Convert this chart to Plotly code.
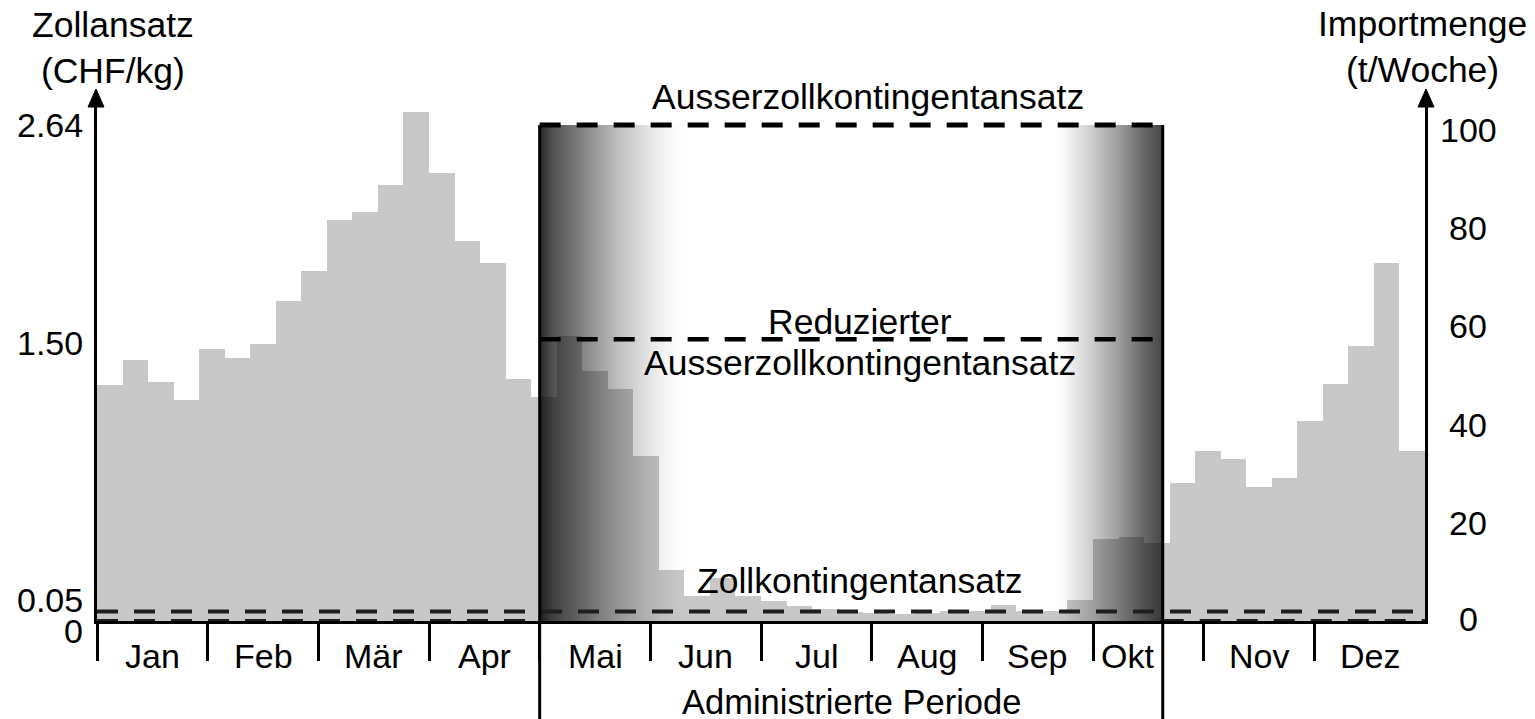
import base64
import struct
import zlib

import plotly.graph_objects as go

# ---------------- data ----------------
months = ["Jan", "Feb", "Mär", "Apr", "Mai", "Jun", "Jul", "Aug", "Sep", "Okt", "Nov", "Dez"]

# weekly import volume (t/Woche), 52 weeks
import_volume = [48.1, 53.2, 48.7, 45.0, 55.4, 53.6, 56.4, 65.2, 71.3, 81.7,
                 83.3, 88.8, 103.7, 91.2, 77.4, 72.9, 49.3, 45.6, 58.0, 50.9,
                 47.3, 33.6, 10.4, 5.1, 8.8, 5.1, 4.1, 3.1, 2.4, 1.8,
                 1.6, 1.4, 1.6, 2.0, 2.0, 3.3, 2.0, 2.0, 4.3, 16.7,
                 17.1, 15.9, 28.1, 34.6, 33.0, 27.3, 29.1, 40.7, 48.3, 56.0,
                 72.9, 34.6]

# tariff rates (CHF/kg)
rate_out_of_quota = 2.64
rate_reduced = 1.50
rate_in_quota = 0.05
rate_outside_period = 0.0

left_ticks = [2.64, 1.50, 0.05, 0]
left_tick_text = ["2.64", "1.50", "0.05", "0"]
right_ticks = [100, 80, 60, 40, 20, 0]

# administered period in month units (1. Mai - ca. 20. Okt)
admin_start = 4.0
admin_end = 9.63

# ---------------- geometry / style ----------------
W, H = 1535, 719
ML, MR, MT, MB = 97, 110, 92, 98
PLOT_H = H - MT - MB
PX_PER_T = 4.91                 # px per t/Woche
Y_RANGE = PLOT_H / PX_PER_T
Y2_RANGE = 2.64 * PLOT_H / 496  # 2.64 drawn 496 px above baseline
FONT = "Liberation Sans, Arial, sans-serif"
FS = 34
FS_BIG = 35.5
BAR_COLOR = "#c8c8c8"

n_weeks = len(import_volume)
bar_w = 12 / n_weeks
bar_x = [(i + 0.5) * bar_w for i in range(n_weeks)]

fig = go.Figure()
fig.add_trace(go.Bar(x=bar_x, y=import_volume, width=bar_w,
                     marker=dict(color=BAR_COLOR, line=dict(width=0)),
                     yaxis="y", hoverinfo="skip"))
fig.add_trace(go.Scatter(x=[None], y=[None], yaxis="y2", mode="markers",
                         showlegend=False, hoverinfo="skip"))


# ---------------- gradient overlay for administered period ----------------
def interp(stops, v):
    if v <= stops[0][0]:
        return stops[0][1]
    for (a, la), (b, lb) in zip(stops, stops[1:]):
        if v <= b:
            return la + (lb - la) * (v - a) / (b - a)
    return stops[-1][1]


def make_png(width, height, rows):
    raw = b"".join(b"\x00" + bytes(r) for r in rows)

    def chunk(tag, data):
        c = struct.pack(">I", len(data)) + tag + data
        return c + struct.pack(">I", zlib.crc32(tag + data) & 0xffffffff)
    ihdr = struct.pack(">IIBBBBB", width, height, 8, 6, 0, 0, 0)
    return (b"\x89PNG\r\n\x1a\n" + chunk(b"IHDR", ihdr)
            + chunk(b"IDAT", zlib.compress(raw)) + chunk(b"IEND", b""))


GW = 626
left_stops = [(0, 40), (13, 80), (46, 136), (80, 192), (113, 232), (136, 252), (150, 255)]
right_stops = [(0, 70), (20, 105), (46, 160), (73, 207), (93, 238), (100, 250), (110, 255)]
row = []
for c in range(GW):
    d = c + 0.5
    L = min(interp(left_stops, d), interp(right_stops, GW - d))
    a = int(round(max(0, min(255, 255 - L))))
    row += [0, 0, 0, a]
png = make_png(GW, 2, [row, row])
src = "data:image/png;base64," + base64.b64encode(png).decode()

fig.add_layout_image(dict(source=src, xref="x", yref="y2",
                          x=admin_start, y=rate_out_of_quota,
                          sizex=admin_end - admin_start, sizey=rate_out_of_quota,
                          xanchor="left", yanchor="top", sizing="stretch",
                          layer="above", opacity=1))

# ---------------- shapes ----------------
shapes = []
dash = "21px,16px"


def hline(x0, x1, yv, color="black", width=4):
    shapes.append(dict(type="line", xref="x", yref="y2", x0=x0, x1=x1, y0=yv, y1=yv,
                       line=dict(color=color, width=width, dash=dash), layer="above"))


hline(admin_start, admin_end, rate_out_of_quota, width=5)
hline(admin_start, admin_end, rate_reduced, width=4.5)
hline(0, 12, rate_in_quota, "#1e1e1e")
hline(0, admin_start, rate_outside_period, "#1e1e1e")
hline(admin_end, 12, rate_outside_period, "#1e1e1e")

top_paper = rate_out_of_quota / Y2_RANGE
bottom_paper = -MB / PLOT_H
for xv in (admin_start, admin_end):
    shapes.append(dict(type="line", xref="x", yref="paper", x0=xv, x1=xv,
                       y0=bottom_paper, y1=top_paper,
                       line=dict(color="black", width=3), layer="above"))

# arrow heads on both y axes (paper-referenced so they are not clipped)
for (xa, dx) in ((0, -1), (1, 1)):
    shapes.append(dict(type="path", xref="paper", yref="paper",
                       xsizemode="pixel", ysizemode="pixel", xanchor=xa, yanchor=1,
                       path=f"M{dx - 8},-15 L{dx + 8},-15 L{dx},3 Z",
                       fillcolor="black", line=dict(color="black", width=1),
                       layer="above"))

# ---------------- annotations ----------------
ann = []


def text(x, y, t, xref="paper", yref="paper", xanchor="center", yanchor="middle",
         xshift=0, yshift=0, size=FS):
    ann.append(dict(x=x, y=y, xref=xref, yref=yref, text=t, showarrow=False,
                    xanchor=xanchor, yanchor=yanchor, xshift=xshift, yshift=yshift,
                    font=dict(family=FONT, size=size, color="black")))


# month labels
for i, m in enumerate(months):
    if m == "Okt":
        xc = (i + admin_end) / 2
    else:
        xc = i + 0.5
    text(xc, 0, m, xref="x", yshift=-35)

# left tick labels
left_shift = {"2.64": 0, "1.50": -4, "0.05": 12, "0": -10}
for v, t in zip(left_ticks, left_tick_text):
    text(0, v, t, xref="paper", yref="y2", xanchor="right", xshift=-12,
         yshift=left_shift[t])

# right tick labels
for v in right_ticks:
    text(1, v, str(v), xref="paper", yref="y", xshift=43, yshift=2 if v == 0 else 0)

# axis titles
text(0, 1, "Zollansatz<br>(CHF/kg)", xshift=16, yshift=44, size=FS_BIG)
text(1, 1, "Importmenge<br>(t/Woche)", xshift=-3, yshift=45, size=FS_BIG)

# rate labels
mid = (admin_start + admin_end) / 2
text(mid, rate_out_of_quota, "Ausserzollkontingentansatz", xref="x", yref="y2",
     xshift=17, yshift=28, size=FS_BIG)
text(mid, rate_reduced, "Reduzierter", xref="x", yref="y2", xshift=9, yshift=17,
     size=FS_BIG)
text(mid, rate_reduced, "Ausserzollkontingentansatz", xref="x", yref="y2",
     xshift=9, yshift=-24, size=FS_BIG)
text(mid, rate_in_quota, "Zollkontingentansatz", xref="x", yref="y2",
     xshift=9, yshift=31, size=FS_BIG)
text(mid, 0, "Administrierte Periode", xref="x", yref="paper", yshift=-81, size=34.5)

fig.update_layout(
    width=W, height=H,
    margin=dict(l=ML, r=MR, t=MT, b=MB, pad=0),
    paper_bgcolor="white", plot_bgcolor="white",
    showlegend=False, bargap=0,
    font=dict(family=FONT, size=FS, color="black"),
    shapes=shapes, annotations=ann,
    xaxis=dict(range=[0, 12], showgrid=False, zeroline=False,
               showline=True, linewidth=3, linecolor="black",
               ticks="outside", tickvals=list(range(12)), ticklen=37,
               tickwidth=2.5, tickcolor="black", showticklabels=False, fixedrange=True),
    yaxis=dict(range=[0, Y_RANGE], side="right", showgrid=False, zeroline=False,
               showline=True, linewidth=2.5, linecolor="black", ticks="",
               showticklabels=False, fixedrange=True),
    yaxis2=dict(range=[0, Y2_RANGE], side="left", overlaying="y", anchor="x",
                showgrid=False, zeroline=False, showline=True, linewidth=2.5,
                linecolor="black", ticks="", showticklabels=False, fixedrange=True),
)

fig.write_html("out.html", config={"displayModeBar": False},
               post_script="document.body.style.margin='0';"
                           "document.body.style.padding='0';"
                           "document.body.style.overflow='hidden';")
